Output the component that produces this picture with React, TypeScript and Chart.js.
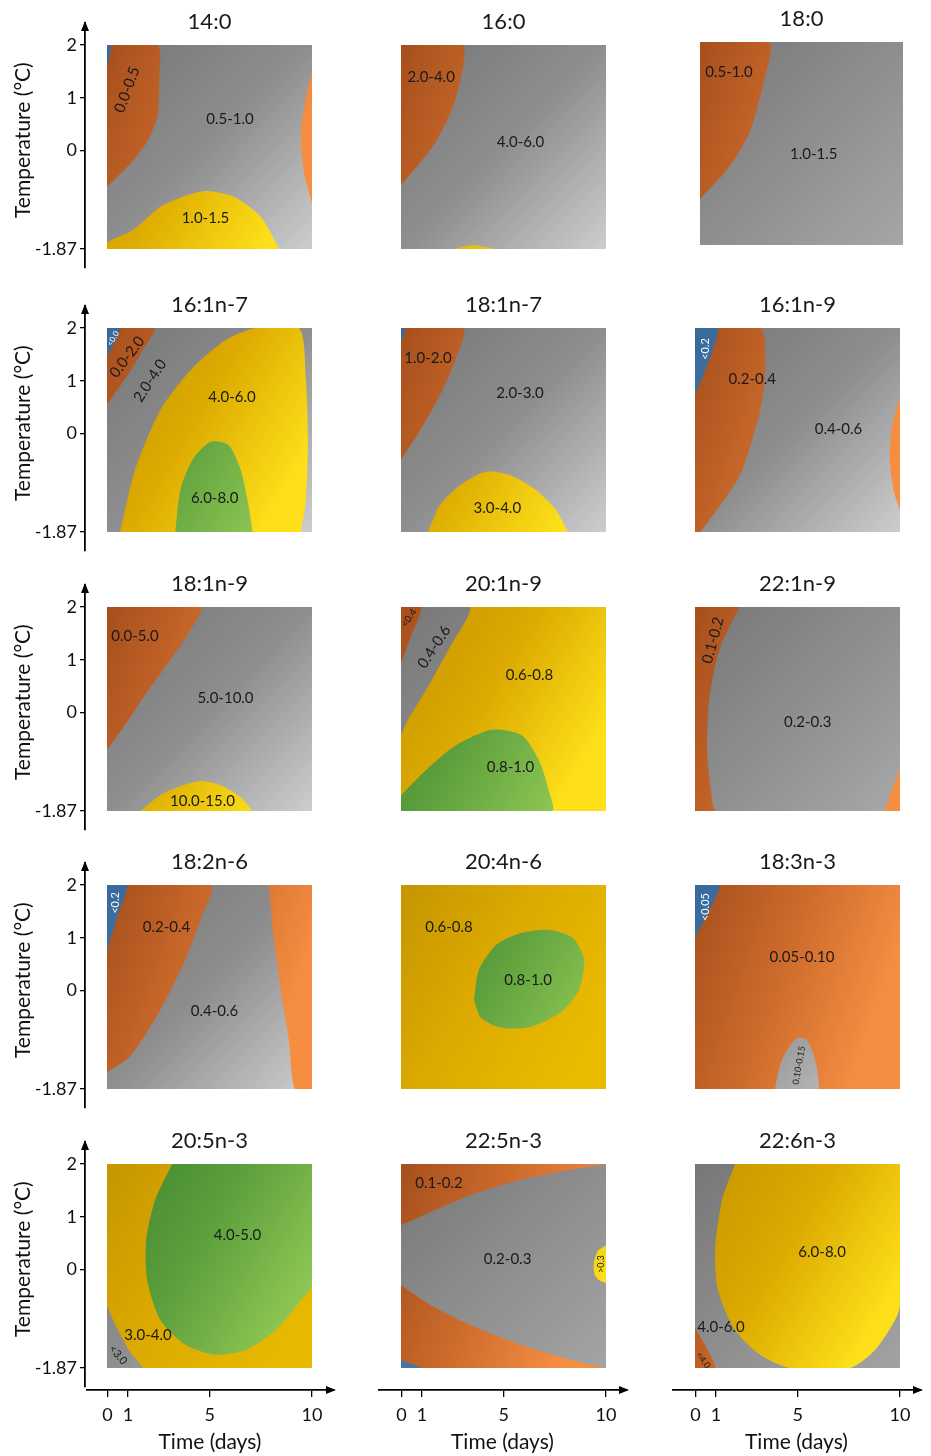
import React, { useEffect, useRef } from 'react';
import { Chart, registerables } from 'chart.js';
Chart.register(...registerables);

type Pt = [number, number];
type Kind = 'gray' | 'orange' | 'yellow' | 'green' | 'blue';
type Label = [string, number, number, number?, number?, string?];

const FONT = 'Lato, "Open Sans", "DejaVu Sans", sans-serif';

// ---------- data ----------
const xTicks = [0, 1, 5, 10];
const yTicks = [2, 1, 0, -1.87];
const xRange: Pt = [0, 10];
const yRange: Pt = [-1.87, 2];
const xTitle = 'Time (days)';
const yTitle = 'Temperature (°C)';

const panelTitles = ['14:0', '16:0', '18:0', '16:1n-7', '18:1n-7', '16:1n-9', '18:1n-9', '20:1n-9', '22:1n-9', '18:2n-6', '20:4n-6', '18:3n-3', '20:5n-3', '22:5n-3', '22:6n-3'];
const panelBase: Kind[] = ['gray', 'gray', 'gray', 'gray', 'gray', 'gray', 'gray', 'yellow', 'orange', 'gray', 'yellow', 'orange', 'yellow', 'gray', 'gray'];

const fullPanel: Pt[] = [[0, 2], [10, 2], [10, -1.87], [0, -1.87]];

// 14:0
const p1OrangeL: Pt[] = [[0, 2], [2.45, 2], [2.55, 1.3], [2.45, 0.63], [2.0, 0.2], [1.3, -0.18], [0.5, -0.5], [0, -0.69]];
const p1Blue: Pt[] = [[0, 2], [0.2, 2], [0, 1.55]];
const p1OrangeR: Pt[] = [[10, 1.49], [9.7, 1.0], [9.46, 0.33], [9.6, -0.4], [10, -1.0]];
const p1Yellow: Pt[] = [[0, -1.87], [0, -1.75], [1.27, -1.51], [2.6, -1.07], [3.9, -0.85], [4.9, -0.77], [6.2, -0.88], [7.5, -1.26], [8.4, -1.87]];
// 16:0
const p2Orange: Pt[] = [[0, 2], [3.0, 2], [2.65, 0.96], [1.76, 0.2], [0.83, -0.28], [0, -0.66]];
const p2Yellow: Pt[] = [[2.6, -1.87], [3.5, -1.8], [4.6, -1.87]];
// 18:0
const p3Orange: Pt[] = [[0, 2], [3.4, 2], [3.1, 1.18], [2.46, 0.3], [1.48, -0.36], [0, -1.0]];
// 16:1n-7
const p4Orange: Pt[] = [[0, 2], [2.3, 2], [1.7, 1.55], [1.0, 1.1], [0.45, 0.8], [0, 0.55]];
const p4Blue: Pt[] = [[0, 2], [0.64, 2], [0, 1.45]];
const p4Yellow: Pt[] = [[0.64, -1.87], [1.37, -0.69], [2.6, 0.44], [4.07, 1.2], [5.78, 1.77], [7.25, 2], [9.36, 2], [9.7, 1.01], [9.8, -0.13], [9.7, -1.26], [9.46, -1.87]];
const p4Green: Pt[] = [[3.33, -1.87], [3.58, -1.07], [4.17, -0.5], [5.05, -0.16], [5.93, -0.22], [6.52, -0.69], [6.9, -1.36], [7.1, -1.87]];
// 18:1n-7
const p5Orange: Pt[] = [[0, 2], [3.04, 2], [2.65, 1.39], [1.9, 0.73], [0.93, 0.06], [0, -0.5]];
const p5Blue: Pt[] = [[0, 2], [0.2, 2], [0, 1.7]];
const p5Yellow: Pt[] = [[1.32, -1.87], [1.9, -1.36], [2.9, -0.98], [4.1, -0.73], [5.3, -0.79], [6.57, -1.07], [7.55, -1.45], [8.14, -1.87]];
// 16:1n-9
const p6OrangeL: Pt[] = [[0, 2], [3.19, 2], [3.43, 1.39], [3.28, 0.63], [2.79, -0.13], [2.2, -0.79], [1.23, -1.36], [0.25, -1.87], [0, -1.87]];
const p6Blue: Pt[] = [[0, 2], [1.1, 2], [0.8, 1.5], [0.4, 1.1], [0, 0.73]];
const p6OrangeR: Pt[] = [[10, 0.7], [9.6, 0.1], [9.5, -0.5], [9.7, -1.1], [10, -1.45]];
// 18:1n-9
const p7Orange: Pt[] = [[0, 2], [4.56, 2], [4.07, 1.56], [3.09, 1.0], [1.86, 0.33], [0.88, -0.24], [0, -0.71]];
const p7Yellow: Pt[] = [[1.62, -1.87], [2.6, -1.57], [3.58, -1.4], [4.56, -1.3], [5.54, -1.38], [6.5, -1.6], [7.1, -1.87]];
// 20:1n-9
const p8Gray: Pt[] = [[0, 2], [3.33, 2], [2.3, 1.18], [1.23, 0.43], [0.34, -0.14], [0, -0.43]];
const p8Orange: Pt[] = [[0, 2], [0.98, 2], [0.5, 1.45], [0, 0.94]];
const p8Green: Pt[] = [[0, -1.57], [1.23, -1.09], [2.7, -0.62], [4.41, -0.33], [5.88, -0.43], [6.72, -0.9], [7.2, -1.47], [7.35, -1.87], [0, -1.87]];
// 22:1n-9
const p9Gray: Pt[] = [[2.16, 2], [1.18, 1.18], [0.69, 0.23], [0.59, -0.72], [0.78, -1.48], [1.08, -1.87], [9.1, -1.87], [9.6, -1.47], [10, -1.0], [10, 2]];
// 18:2n-6
const p10OrangeL: Pt[] = [[0, 2], [5.05, 2], [4.56, 1.34], [3.82, 0.58], [2.6, -0.37], [1.13, -1.25], [0, -1.55]];
const p10Blue: Pt[] = [[0, 2], [0.98, 2], [0.5, 1.4], [0, 0.77]];
const p10OrangeR: Pt[] = [[7.9, 2], [8.09, 1.15], [8.48, 0.0], [8.87, -0.94], [9.17, -1.87], [10, -1.87], [10, 2]];
// 20:4n-6
const p11Green: Pt[] = [[3.56, -0.18], [3.8, 0.39], [4.63, 0.86], [5.85, 1.09], [7.22, 1.15], [8.39, 0.99], [8.93, 0.58], [8.68, 0.01], [7.8, -0.41], [6.34, -0.69], [4.88, -0.71], [3.9, -0.52], [3.56, -0.18]];
// 18:3n-3
const p12Blue: Pt[] = [[0, 2], [1.2, 2], [0, 0.99]];
const p12Gray: Pt[] = [[3.9, -1.87], [4.15, -1.42], [4.5, -1.13], [4.98, -0.9], [5.46, -0.94], [5.8, -1.23], [6.0, -1.6], [6.05, -1.87]];
// 20:5n-3
const p13Gray: Pt[] = [[0, -0.68], [0.25, -0.92], [0.54, -1.15], [1.1, -1.55], [1.7, -1.87], [0, -1.87]];
const p13Green: Pt[] = [[3.18, 2], [2.35, 1.32], [1.91, 0.56], [1.96, -0.2], [2.6, -0.96], [3.82, -1.43], [5.29, -1.62], [6.76, -1.53], [8.23, -1.15], [9.46, -0.58], [10, -0.3], [10, 2]];
// 22:5n-3
const p14OrangeT: Pt[] = [[0, 2], [10, 2], [8.29, 1.89], [5.85, 1.7], [3.41, 1.41], [1.46, 1.09], [0, 0.84]];
const p14OrangeB: Pt[] = [[0, -0.3], [1.46, -0.68], [3.41, -1.06], [5.85, -1.43], [8.29, -1.72], [10, -1.87], [0, -1.87]];
const p14Blue: Pt[] = [[0, -1.72], [1.0, -1.87], [0, -1.87]];
const p14Yellow: Pt[] = [[10, 0.46], [9.6, 0.35], [9.4, 0.1], [9.45, -0.1], [9.65, -0.2], [10, -0.26]];
// 22:6n-3
const p15Yellow: Pt[] = [[1.95, 2], [1.32, 1.32], [0.98, 0.37], [1.12, -0.39], [1.95, -1.15], [3.17, -1.62], [4.63, -1.87], [7.56, -1.87], [8.78, -1.53], [9.76, -0.96], [10, -0.68], [10, 2]];
const p15Orange: Pt[] = [[0, -1.11], [0.49, -1.43], [0.98, -1.87], [0, -1.87]];

const panelRegions: [Kind, Pt[]][][] = [
  [['orange', p1OrangeL], ['blue', p1Blue], ['orange', p1OrangeR], ['yellow', p1Yellow]],
  [['orange', p2Orange], ['yellow', p2Yellow]],
  [['orange', p3Orange]],
  [['orange', p4Orange], ['blue', p4Blue], ['yellow', p4Yellow], ['green', p4Green]],
  [['orange', p5Orange], ['blue', p5Blue], ['yellow', p5Yellow]],
  [['orange', p6OrangeL], ['blue', p6Blue], ['orange', p6OrangeR]],
  [['orange', p7Orange], ['yellow', p7Yellow]],
  [['gray', p8Gray], ['orange', p8Orange], ['green', p8Green]],
  [['gray', p9Gray]],
  [['orange', p10OrangeL], ['blue', p10Blue], ['orange', p10OrangeR]],
  [['green', p11Green]],
  [['blue', p12Blue], ['gray', p12Gray]],
  [['gray', p13Gray], ['green', p13Green]],
  [['orange', p14OrangeT], ['orange', p14OrangeB], ['blue', p14Blue], ['yellow', p14Yellow]],
  [['yellow', p15Yellow], ['orange', p15Orange]],
];

const panelLabels: Label[][] = [
  [['0.0-0.5', 0.98, 1.15, -70], ['0.5-1.0', 6.0, 0.6], ['1.0-1.5', 4.8, -1.28]],
  [['2.0-4.0', 1.47, 1.39], ['4.0-6.0', 5.83, 0.16]],
  [['0.5-1.0', 1.43, 1.42], ['1.0-1.5', 5.6, -0.14]],
  [['<0.0', 0.3, 1.8, -60, 8, '#ffffff'], ['0.0-2.0', 0.98, 1.45, -53], ['2.0-4.0', 2.1, 1.0, -57], ['4.0-6.0', 6.1, 0.69], ['6.0-8.0', 5.25, -1.23]],
  [['1.0-2.0', 1.32, 1.43], ['2.0-3.0', 5.8, 0.77], ['3.0-4.0', 4.7, -1.42]],
  [['<0.2', 0.5, 1.6, -90, 11, '#ffffff'], ['0.2-0.4', 2.79, 1.03], ['0.4-0.6', 7.0, 0.08]],
  [['0.0-5.0', 1.37, 1.45], ['5.0-10.0', 5.78, 0.28], ['10.0-15.0', 4.66, -1.68]],
  [['<0.4', 0.39, 1.79, -55, 10], ['0.4-0.6', 1.62, 1.24, -57], ['0.6-0.8', 6.27, 0.71], ['0.8-1.0', 5.34, -1.04]],
  [['0.1-0.2', 0.88, 1.37, -75], ['0.2-0.3', 5.5, -0.18]],
  [['<0.2', 0.39, 1.66, -90, 11, '#ffffff'], ['0.2-0.4', 2.9, 1.2], ['0.4-0.6', 5.24, -0.39]],
  [['0.6-0.8', 2.34, 1.2], ['0.8-1.0', 6.2, 0.2]],
  [['<0.05', 0.5, 1.58, -90, 11, '#ffffff'], ['0.05-0.10', 5.22, 0.63], ['0.10-0.15', 5.07, -1.42, -80, 9]],
  [['4.0-5.0', 6.37, 0.65], ['3.0-4.0', 2.0, -1.24], ['<3.0', 0.54, -1.62, 50, 11]],
  [['0.1-0.2', 1.85, 1.64], ['0.2-0.3', 5.2, 0.2], ['>0.3', 9.75, 0.1, -90, 9]],
  [['6.0-8.0', 6.2, 0.33], ['4.0-6.0', 1.27, -1.1], ['<4.0', 0.4, -1.72, 55, 9]],
];

// ---------- layout & style ----------
const colLeft = [107, 401, 695];
const rowTop = [45, 328, 607, 885, 1164];
const PW = 205;
const PH = 204;
const panelRectOverride: Record<number, [number, number, number, number]> = { 2: [700, 42, 203, 203] };
const TITLE_BLOCK = 35;
const Y_AXIS_X = 85;
const AX_ABOVE = 22;
const AX_BELOW = 19;
const X_AXIS_Y = 1390;
const xAxisSpan: [number, number][] = [[86, 334], [378, 627], [672, 921]];
const PX_PER_DAY = 20.45;
const LABEL_SIZE = 15;

const palette: Record<Kind, string[]> = {
  gray: ['#777777', '#8e8e8e', '#cdcdcd'],
  orange: ['#a64f1d', '#cd6b2c', '#f68e42'],
  yellow: ['#c69500', '#dcaa00', '#fde01a'],
  green: ['#3e852e', '#5c9f3c', '#8fc754'],
  blue: ['#386a9b', '#4477a8', '#5588bb'],
};
// per-panel lighter-end override (style only)
const panelTint: Record<number, Partial<Record<Kind, string>>> = {
  2: { gray: '#a6a6a6' },
  8: { gray: '#a8a8a8' },
  10: { yellow: '#e8bb00' },
  12: { yellow: '#e6b800' },
  13: { gray: '#a4a4a4' },
  14: { gray: '#a2a2a2' },
};
const gradDir: Record<Kind, number> = { gray: 1, orange: 0.35, yellow: 0.6, green: 0.6, blue: 1 };

function makeGrad(chart: any, kind: Kind, panel: number) {
  const a = chart.chartArea;
  const c = palette[kind];
  const light = (panelTint[panel] && panelTint[panel][kind]) || c[2];
  if (!a) return c[1];
  const g = chart.ctx.createLinearGradient(a.left, a.top, a.right, a.top + (a.bottom - a.top) * gradDir[kind]);
  g.addColorStop(0, c[0]);
  g.addColorStop(0.5, c[1]);
  g.addColorStop(1, light);
  return g;
}

function regionDataset(kind: Kind, pts: Pt[], order: number, tension: number, panel: number) {
  return {
    data: pts.map(([x, y]) => ({ x, y })),
    fill: 'shape',
    backgroundColor: (c: any) => makeGrad(c.chart, kind, panel),
    borderColor: 'rgba(0,0,0,0)',
    borderWidth: 0,
    pointRadius: 0,
    pointHoverRadius: 0,
    tension,
    order,
  };
}

function labelPlugin(labels: Label[]) {
  return {
    id: 'regionLabels',
    afterDatasetsDraw(chart: any) {
      const { ctx, scales } = chart;
      for (const [text, lx, ly, rot = 0, size = LABEL_SIZE, color = '#1a1a1a'] of labels) {
        ctx.save();
        ctx.translate(scales.x.getPixelForValue(lx), scales.y.getPixelForValue(ly));
        ctx.rotate(((rot as number) * Math.PI) / 180);
        ctx.font = `${size}px ${FONT}`;
        ctx.fillStyle = color as string;
        ctx.textAlign = 'center';
        ctx.textBaseline = 'middle';
        ctx.fillText(text, 0, 0);
        ctx.restore();
      }
    },
  };
}

function arrowPlugin(dir: 'up' | 'right') {
  return {
    id: 'axisArrow',
    afterDraw(chart: any) {
      const { ctx, chartArea: a } = chart;
      ctx.save();
      ctx.fillStyle = '#000';
      ctx.beginPath();
      if (dir === 'up') {
        const x = a.left, y = a.top;
        ctx.moveTo(x, y - 2);
        ctx.lineTo(x - 4, y + 8);
        ctx.lineTo(x + 4, y + 8);
      } else {
        const x = a.right, y = a.bottom;
        ctx.moveTo(x + 2, y);
        ctx.lineTo(x - 8, y - 4);
        ctx.lineTo(x - 8, y + 4);
      }
      ctx.closePath();
      ctx.fill();
      ctx.restore();
    },
  };
}

function ChartBox({ left, top, width, height, make }: { left: number; top: number; width: number; height: number; make: () => any }) {
  const ref = useRef<HTMLCanvasElement>(null);
  useEffect(() => {
    const chart = new Chart(ref.current as HTMLCanvasElement, make());
    return () => chart.destroy();
  }, []);
  return <canvas ref={ref} width={width} height={height} style={{ position: 'absolute', left, top, width, height }} />;
}

const common = {
  animation: false,
  responsive: false,
  devicePixelRatio: 1,
  events: [],
};

function panelConfig(i: number) {
  const regions = panelRegions[i];
  const datasets: any[] = [regionDataset(panelBase[i], fullPanel, 100, 0, i)];
  regions.forEach(([kind, pts], j) => datasets.push(regionDataset(kind, pts, 99 - j, 0.25, i)));
  return {
    type: 'line',
    data: { datasets },
    options: {
      ...common,
      layout: { padding: 0, autoPadding: false },
      scales: {
        x: { type: 'linear', display: false, min: xRange[0], max: xRange[1] },
        y: { type: 'linear', display: false, min: yRange[0], max: yRange[1] },
      },
      plugins: {
        legend: { display: false },
        tooltip: { enabled: false },
        title: {
          display: true,
          text: panelTitles[i],
          color: '#1a1a1a',
          font: { family: FONT, size: 22, weight: 'normal', lineHeight: '24px' },
          padding: { top: 0, bottom: TITLE_BLOCK - 24 },
        },
      },
    },
    plugins: [labelPlugin(panelLabels[i])],
  };
}

function yAxisConfig(r: number) {
  const k = (yRange[1] - yRange[0]) / PH;
  return {
    type: 'line',
    data: { datasets: [] },
    options: {
      ...common,
      layout: { padding: { top: 2, bottom: 2, left: 0, right: 0 }, autoPadding: false },
      scales: {
        x: { type: 'linear', display: false, min: 0, max: 1 },
        y: {
          type: 'linear',
          position: 'left',
          min: yRange[0] - AX_BELOW * k,
          max: yRange[1] + AX_ABOVE * k,
          afterBuildTicks: (s: any) => { s.ticks = yTicks.map((v) => ({ value: v })); },
          afterFit: (s: any) => { s.width = Y_AXIS_X; s.paddingTop = 0; s.paddingBottom = 0; },
          ticks: { autoSkip: false, padding: 3, color: '#111', font: { family: FONT, size: 18 }, callback: (v: any) => String(v) },
          grid: { drawOnChartArea: false, drawTicks: true, tickLength: 5, color: '#000', lineWidth: 1.3 },
          border: { display: true, color: '#000', width: 1.8 },
          title: { display: true, text: '  ' + yTitle, color: '#111', font: { family: FONT, size: 21, lineHeight: 1.2 }, padding: { top: 11, bottom: 0 } },
        },
      },
      plugins: { legend: { display: false }, tooltip: { enabled: false }, title: { display: false } },
    },
    plugins: [arrowPlugin('up')],
  };
}

function xAxisConfig(c: number) {
  const zero = colLeft[c] + 0.5;
  const [s, e] = xAxisSpan[c];
  return {
    type: 'line',
    data: { datasets: [] },
    options: {
      ...common,
      layout: { padding: { top: 0, bottom: 0, left: 0, right: 3 }, autoPadding: false },
      scales: {
        x: {
          type: 'linear',
          position: 'bottom',
          min: (s - zero) / PX_PER_DAY,
          max: (e - zero) / PX_PER_DAY,
          afterBuildTicks: (sc: any) => { sc.ticks = xTicks.map((v) => ({ value: v })); },
          afterFit: (sc: any) => { sc.height = 66; sc.paddingLeft = 0; sc.paddingRight = 0; },
          ticks: { autoSkip: false, maxRotation: 0, padding: 7, color: '#111', font: { family: FONT, size: 18 }, callback: (v: any) => String(v) },
          grid: { drawOnChartArea: false, drawTicks: true, tickLength: 7, color: '#000', lineWidth: 1.3 },
          border: { display: true, color: '#000', width: 1.8 },
          title: { display: true, text: xTitle, color: '#111', font: { family: FONT, size: 21, lineHeight: 1.2 }, padding: { top: 0, bottom: 1 } },
        },
        y: { type: 'linear', display: false, min: 0, max: 1 },
      },
      plugins: { legend: { display: false }, tooltip: { enabled: false }, title: { display: false } },
    },
    plugins: [arrowPlugin('right')],
  };
}

export default function App() {
  const items: React.ReactNode[] = [];
  panelTitles.forEach((_, i) => {
    const r = Math.floor(i / 3);
    const c = i % 3;
    const [l, t, w, h] = panelRectOverride[i] || [colLeft[c], rowTop[r], PW, PH];
    items.push(<ChartBox key={'p' + i} left={l} top={t - TITLE_BLOCK} width={w} height={h + TITLE_BLOCK} make={() => panelConfig(i)} />);
  });
  rowTop.forEach((t, r) => {
    const top = t - AX_ABOVE - 2;
    const height = AX_ABOVE + PH + AX_BELOW + 4;
    items.push(<ChartBox key={'y' + r} left={0} top={top} width={Y_AXIS_X + 5} height={height} make={() => yAxisConfig(r)} />);
  });
  xAxisSpan.forEach(([s, e], c) => {
    items.push(<ChartBox key={'x' + c} left={s} top={X_AXIS_Y - 10} width={e - s + 3} height={76} make={() => xAxisConfig(c)} />);
  });
  return (
    <div style={{ position: 'absolute', left: 0, top: 0, width: 931, height: 1456, background: '#ffffff', overflow: 'hidden' }}>
      {items}
    </div>
  );
}
